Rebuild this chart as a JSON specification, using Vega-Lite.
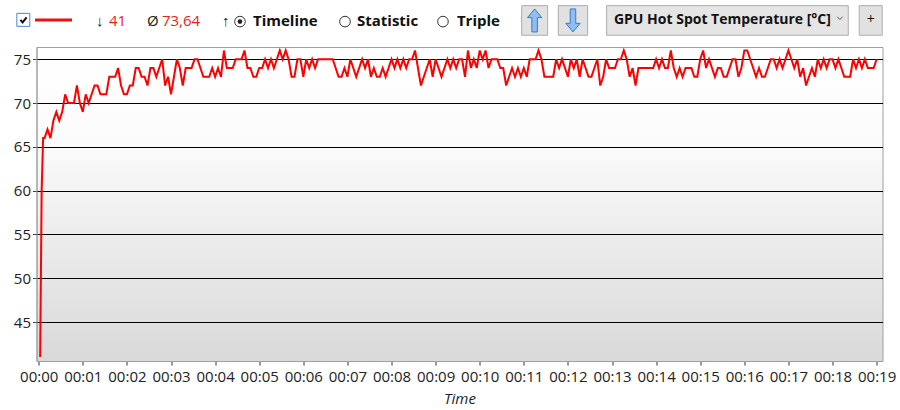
{
  "$schema": "https://vega.github.io/schema/vega-lite/v6.json",
  "width": 846,
  "height": 314,
  "autosize": {"type": "none"},
  "padding": {"left": 36.5, "top": 47, "right": 17.5, "bottom": 49},
  "background": "#ffffff",
  "view": {
    "fill": {"gradient": "linear", "x1": 0, "y1": 0, "x2": 0, "y2": 1,
      "stops": [{"offset": 0, "color": "#ffffff"}, {"offset": 0.3, "color": "#fbfbfb"}, {"offset": 1, "color": "#d9d9d9"}]},
    "stroke": "#a0a0a0"
  },
  "config": {"font": "Open Sans"},
  "data": {"values": [
{"s":2,"v":41},{"s":4,"v":60},{"s":6,"v":66},{"s":8,"v":66},{"s":12,"v":67},{"s":16,"v":66},{"s":20,"v":68},{"s":24,"v":69},{"s":28,"v":68},{"s":32,"v":69},{"s":36,"v":71},{"s":40,"v":70},{"s":44,"v":70},{"s":48,"v":70},{"s":52,"v":72},{"s":56,"v":70},{"s":60,"v":69},{"s":64,"v":71},{"s":68,"v":70},{"s":72,"v":71},{"s":76,"v":72},{"s":80,"v":72},{"s":84,"v":71},{"s":88,"v":71},{"s":92,"v":71},{"s":96,"v":73},{"s":100,"v":73},{"s":104,"v":73},{"s":108,"v":74},{"s":112,"v":72},{"s":116,"v":71},{"s":120,"v":71},{"s":124,"v":72},{"s":128,"v":72},{"s":132,"v":74},{"s":136,"v":74},{"s":140,"v":73},{"s":144,"v":73},{"s":148,"v":72},{"s":152,"v":74},{"s":156,"v":74},{"s":160,"v":73},{"s":164,"v":74},{"s":168,"v":75},{"s":172,"v":72},{"s":176,"v":73},{"s":180,"v":71},{"s":184,"v":73},{"s":188,"v":75},{"s":192,"v":74},{"s":196,"v":72},{"s":200,"v":74},{"s":204,"v":74},{"s":208,"v":74},{"s":212,"v":75},{"s":216,"v":75},{"s":220,"v":74},{"s":224,"v":73},{"s":228,"v":73},{"s":232,"v":73},{"s":236,"v":74},{"s":240,"v":73},{"s":244,"v":74},{"s":248,"v":73},{"s":252,"v":76},{"s":256,"v":74},{"s":260,"v":74},{"s":264,"v":74},{"s":268,"v":75},{"s":272,"v":75},{"s":276,"v":75},{"s":280,"v":76},{"s":284,"v":74},{"s":288,"v":74},{"s":292,"v":73},{"s":296,"v":73},{"s":300,"v":74},{"s":304,"v":74},{"s":308,"v":75},{"s":312,"v":74},{"s":316,"v":75},{"s":320,"v":74},{"s":324,"v":75},{"s":328,"v":76},{"s":332,"v":75},{"s":336,"v":76},{"s":340,"v":75},{"s":344,"v":73},{"s":348,"v":73},{"s":352,"v":75},
{"s":356,"v":75},{"s":360,"v":73},{"s":364,"v":75},{"s":368,"v":74},{"s":372,"v":75},{"s":376,"v":74},{"s":380,"v":75},{"s":384,"v":75},{"s":388,"v":75},{"s":392,"v":75},{"s":396,"v":75},{"s":400,"v":75},{"s":404,"v":74},{"s":408,"v":73},{"s":412,"v":73},{"s":416,"v":74},{"s":420,"v":73},{"s":424,"v":75},{"s":428,"v":74},{"s":432,"v":73},{"s":436,"v":74},{"s":440,"v":75},{"s":444,"v":74},{"s":448,"v":75},{"s":452,"v":73},{"s":456,"v":74},{"s":460,"v":73},{"s":464,"v":73},{"s":468,"v":74},{"s":472,"v":73},{"s":476,"v":74},{"s":480,"v":75},{"s":484,"v":74},{"s":488,"v":75},{"s":492,"v":74},{"s":496,"v":75},{"s":500,"v":74},{"s":504,"v":75},{"s":508,"v":75},{"s":512,"v":76},{"s":516,"v":74},{"s":520,"v":72},{"s":524,"v":73},{"s":528,"v":74},{"s":532,"v":75},{"s":536,"v":73},{"s":540,"v":75},{"s":544,"v":74},
{"s":548,"v":73},{"s":552,"v":74},{"s":556,"v":75},{"s":560,"v":74},{"s":564,"v":75},{"s":568,"v":74},{"s":572,"v":75},{"s":576,"v":75},{"s":580,"v":73},{"s":584,"v":76},{"s":588,"v":74},{"s":592,"v":75},{"s":596,"v":74},{"s":600,"v":76},{"s":604,"v":75},{"s":608,"v":76},{"s":612,"v":74},{"s":616,"v":75},{"s":620,"v":75},{"s":624,"v":75},{"s":628,"v":74},{"s":632,"v":74},{"s":636,"v":72},{"s":640,"v":73},{"s":644,"v":74},{"s":648,"v":73},{"s":652,"v":74},{"s":656,"v":73},{"s":660,"v":74},{"s":664,"v":73},{"s":668,"v":75},{"s":672,"v":75},{"s":676,"v":75},{"s":680,"v":76},{"s":684,"v":75},{"s":688,"v":73},{"s":692,"v":73},{"s":696,"v":73},{"s":700,"v":73},{"s":704,"v":75},{"s":708,"v":74},{"s":712,"v":75},{"s":716,"v":74},{"s":720,"v":73},{"s":724,"v":75},{"s":728,"v":74},{"s":732,"v":75},{"s":736,"v":73},{"s":740,"v":75},{"s":744,"v":74},{"s":748,"v":73},{"s":752,"v":73},{"s":756,"v":74},{"s":760,"v":75},{"s":764,"v":72},{"s":768,"v":73},{"s":772,"v":75},{"s":776,"v":74},{"s":780,"v":74},{"s":784,"v":74},{"s":788,"v":75},{"s":792,"v":75},{"s":796,"v":76},{"s":800,"v":75},{"s":804,"v":73},{"s":808,"v":74},{"s":812,"v":72},{"s":816,"v":74},{"s":820,"v":74},{"s":824,"v":74},{"s":828,"v":74},{"s":832,"v":74},{"s":836,"v":74},{"s":840,"v":75},
{"s":844,"v":74},{"s":848,"v":75},{"s":852,"v":74},{"s":856,"v":74},{"s":860,"v":76},{"s":864,"v":74},{"s":868,"v":73},{"s":872,"v":74},{"s":876,"v":73},{"s":880,"v":74},{"s":884,"v":74},{"s":888,"v":74},{"s":892,"v":73},{"s":896,"v":73},{"s":900,"v":75},{"s":904,"v":76},{"s":908,"v":74},{"s":912,"v":75},{"s":916,"v":74},{"s":920,"v":73},{"s":924,"v":74},{"s":928,"v":74},{"s":932,"v":73},{"s":936,"v":73},{"s":940,"v":74},{"s":944,"v":75},{"s":948,"v":75},{"s":952,"v":73},{"s":956,"v":74},{"s":960,"v":76},{"s":964,"v":76},{"s":968,"v":75},{"s":972,"v":74},{"s":976,"v":73},{"s":980,"v":74},{"s":984,"v":73},{"s":988,"v":73},{"s":992,"v":74},{"s":996,"v":75},{"s":1000,"v":75},{"s":1004,"v":74},{"s":1008,"v":75},{"s":1012,"v":74},{"s":1016,"v":75},{"s":1020,"v":76},{"s":1024,"v":75},{"s":1028,"v":74},{"s":1032,"v":75},{"s":1036,"v":73},{"s":1040,"v":74},{"s":1044,"v":72},{"s":1048,"v":73},{"s":1052,"v":74},{"s":1056,"v":73},{"s":1060,"v":75},{"s":1064,"v":74},{"s":1068,"v":75},{"s":1072,"v":74},{"s":1076,"v":75},{"s":1080,"v":75},{"s":1084,"v":74},{"s":1088,"v":75},{"s":1092,"v":74},{"s":1096,"v":73},{"s":1100,"v":73},{"s":1104,"v":73},{"s":1108,"v":75},{"s":1112,"v":74},{"s":1116,"v":75},{"s":1120,"v":74},{"s":1124,"v":75},{"s":1128,"v":74},{"s":1132,"v":74},{"s":1136,"v":74},{"s":1140,"v":75}
  ]},
  "layer": [
    {
      "mark": {"type": "line", "color": "#ff0000", "strokeWidth": 2},
      "encoding": {
        "x": {"field": "s", "type": "quantitative",
          "scale": {"domain": [-3, 1148], "nice": false, "zero": false},
          "axis": {"values": [0,60,120,180,240,300,360,420,480,540,600,660,720,780,840,900,960,1020,1080,1140],
            "labelExpr": "'00:' + (datum.value < 600 ? '0' : '') + round(datum.value / 60)",
            "title": "Time", "titleFontStyle": "italic", "titleFontWeight": "normal", "titleFontSize": 15, "titleColor": "#222222", "titlePadding": 7,
            "labelFontSize": 15, "labelColor": "#222222", "labelPadding": 4, "labelFlush": false, "labelOverlap": false,
            "tickColor": "#333333", "tickSize": 4, "domainColor": "#a0a0a0", "grid": false}},
        "y": {"field": "v", "type": "quantitative",
          "scale": {"domain": [40.55, 76.4], "nice": false, "zero": false},
          "axis": {"values": [45,50,55,60,65,70,75], "title": null,
            "grid": true, "gridColor": "#000000", "gridOpacity": 1, "gridWidth": 1,
            "labelFontSize": 15, "labelColor": "#222222", "labelPadding": 2,
            "tickColor": "#444444", "tickSize": 4, "domainColor": "#a0a0a0"}}
      }
    },
    {
      "data": {"values": [{}]},
      "mark": {"type": "point", "shape": "square", "size": 169, "filled": true, "fill": "#ffffff", "stroke": "#4a86d0", "strokeWidth": 1, "opacity": 1},
      "encoding": {"x": {"datum": -20.9, "type": "quantitative"}, "y": {"datum": 79.5, "type": "quantitative"}}
    },
    {
      "data": {"values": [{}]},
      "mark": {"type": "point", "shape": "M-0.6,0 L-0.15,0.5 L0.65,-0.5", "size": 100, "filled": false, "stroke": "#111111", "strokeWidth": 2, "opacity": 1},
      "encoding": {"x": {"datum": -20.9, "type": "quantitative"}, "y": {"datum": 79.5, "type": "quantitative"}}
    },
    {
      "data": {"values": [{}]},
      "mark": {"type": "rule", "color": "#ee1111", "strokeWidth": 3},
      "encoding": {"x": {"datum": -5, "type": "quantitative"}, "x2": {"datum": 45.3}, "y": {"datum": 79.48, "type": "quantitative"}}
    },
    {
      "data": {"values": [{}]},
      "mark": {"type": "text", "text": "↓", "align": "left", "baseline": "middle", "fontSize": 15, "color": "#222222"},
      "encoding": {"x": {"datum": 78, "type": "quantitative"}, "y": {"datum": 79.37, "type": "quantitative"}}
    },
    {
      "data": {"values": [{}]},
      "mark": {"type": "text", "text": "41", "align": "left", "baseline": "middle", "fontSize": 15, "color": "#e52222"},
      "encoding": {"x": {"datum": 95.6, "type": "quantitative"}, "y": {"datum": 79.37, "type": "quantitative"}}
    },
    {
      "data": {"values": [{}]},
      "mark": {"type": "text", "text": "Ø", "align": "left", "baseline": "middle", "fontSize": 15, "color": "#222222"},
      "encoding": {"x": {"datum": 147.3, "type": "quantitative"}, "y": {"datum": 79.37, "type": "quantitative"}}
    },
    {
      "data": {"values": [{}]},
      "mark": {"type": "text", "text": "73,64", "align": "left", "baseline": "middle", "fontSize": 15, "color": "#e52222"},
      "encoding": {"x": {"datum": 167.7, "type": "quantitative"}, "y": {"datum": 79.37, "type": "quantitative"}}
    },
    {
      "data": {"values": [{}]},
      "mark": {"type": "text", "text": "↑", "align": "left", "baseline": "middle", "fontSize": 15, "color": "#222222"},
      "encoding": {"x": {"datum": 249.3, "type": "quantitative"}, "y": {"datum": 79.37, "type": "quantitative"}}
    },
    {
      "data": {"values": [{}]},
      "mark": {"type": "point", "shape": "circle", "size": 113, "filled": true, "fill": "#ffffff", "stroke": "#333333", "strokeWidth": 1, "opacity": 1},
      "encoding": {"x": {"datum": 273.8, "type": "quantitative"}, "y": {"datum": 79.3, "type": "quantitative"}}
    },
    {
      "data": {"values": [{}]},
      "mark": {"type": "point", "shape": "circle", "size": 113, "filled": true, "fill": "#ffffff", "stroke": "#333333", "strokeWidth": 1, "opacity": 1},
      "encoding": {"x": {"datum": 416.7, "type": "quantitative"}, "y": {"datum": 79.3, "type": "quantitative"}}
    },
    {
      "data": {"values": [{}]},
      "mark": {"type": "point", "shape": "circle", "size": 113, "filled": true, "fill": "#ffffff", "stroke": "#333333", "strokeWidth": 1, "opacity": 1},
      "encoding": {"x": {"datum": 550, "type": "quantitative"}, "y": {"datum": 79.3, "type": "quantitative"}}
    },
    {
      "data": {"values": [{}]},
      "mark": {"type": "point", "shape": "circle", "size": 22, "filled": true, "fill": "#222222", "strokeWidth": 0, "opacity": 1},
      "encoding": {"x": {"datum": 273.8, "type": "quantitative"}, "y": {"datum": 79.3, "type": "quantitative"}}
    },
    {
      "data": {"values": [{}]},
      "mark": {"type": "text", "text": "Timeline", "align": "left", "baseline": "middle", "fontSize": 15, "fontWeight": "bold", "color": "#111111"},
      "encoding": {"x": {"datum": 291.5, "type": "quantitative"}, "y": {"datum": 79.37, "type": "quantitative"}}
    },
    {
      "data": {"values": [{}]},
      "mark": {"type": "text", "text": "Statistic", "align": "left", "baseline": "middle", "fontSize": 15, "fontWeight": "bold", "color": "#111111"},
      "encoding": {"x": {"datum": 433, "type": "quantitative"}, "y": {"datum": 79.37, "type": "quantitative"}}
    },
    {
      "data": {"values": [{}]},
      "mark": {"type": "text", "text": "Triple", "align": "left", "baseline": "middle", "fontSize": 15, "fontWeight": "bold", "color": "#111111"},
      "encoding": {"x": {"datum": 569, "type": "quantitative"}, "y": {"datum": 79.37, "type": "quantitative"}}
    },
    {
      "data": {"values": [{}]},
      "mark": {"type": "rect", "fill": "#e1e1e1", "stroke": "#adadad", "strokeWidth": 1},
      "encoding": {"x": {"datum": 657.1, "type": "quantitative"}, "x2": {"datum": 692.4}, "y": {"datum": 81.12, "type": "quantitative"}, "y2": {"datum": 77.74}}
    },
    {
      "data": {"values": [{}]},
      "mark": {"type": "rect", "fill": "#e1e1e1", "stroke": "#adadad", "strokeWidth": 1},
      "encoding": {"x": {"datum": 706.9, "type": "quantitative"}, "x2": {"datum": 746.9}, "y": {"datum": 81.12, "type": "quantitative"}, "y2": {"datum": 77.74}}
    },
    {
      "data": {"values": [{}]},
      "mark": {"type": "point", "shape": "M0,-1 L0.62,-0.25 L0.24,-0.25 L0.24,1 L-0.24,1 L-0.24,-0.25 L-0.62,-0.25 Z", "size": 529, "filled": true, "fill": "#8fbff0", "stroke": "#3a78c8", "strokeWidth": 1, "opacity": 1},
      "encoding": {"x": {"datum": 674.7, "type": "quantitative"}, "y": {"datum": 79.43, "type": "quantitative"}}
    },
    {
      "data": {"values": [{}]},
      "mark": {"type": "point", "shape": "M0,1 L0.62,0.25 L0.24,0.25 L0.24,-1 L-0.24,-1 L-0.24,0.25 L-0.62,0.25 Z", "size": 529, "filled": true, "fill": "#8fbff0", "stroke": "#3a78c8", "strokeWidth": 1, "opacity": 1},
      "encoding": {"x": {"datum": 726.9, "type": "quantitative"}, "y": {"datum": 79.43, "type": "quantitative"}}
    },
    {
      "data": {"values": [{}]},
      "mark": {"type": "rect", "fill": "#e5e5e5", "stroke": "#acacac", "strokeWidth": 1},
      "encoding": {"x": {"datum": 772.7, "type": "quantitative"}, "x2": {"datum": 1101.4}, "y": {"datum": 81.12, "type": "quantitative"}, "y2": {"datum": 77.74}}
    },
    {
      "data": {"values": [{}]},
      "mark": {"type": "text", "text": "GPU Hot Spot Temperature [°C]", "align": "left", "baseline": "middle", "fontSize": 14, "fontWeight": "bold", "color": "#111111"},
      "encoding": {"x": {"datum": 782.6, "type": "quantitative"}, "y": {"datum": 79.43, "type": "quantitative"}}
    },
    {
      "data": {"values": [{}]},
      "mark": {"type": "point", "shape": "M-1,-0.5 L0,0.5 L1,-0.5", "size": 30, "filled": false, "stroke": "#555555", "strokeWidth": 1, "opacity": 1},
      "encoding": {"x": {"datum": 1090.1, "type": "quantitative"}, "y": {"datum": 79.7, "type": "quantitative"}}
    },
    {
      "data": {"values": [{}]},
      "mark": {"type": "rect", "fill": "#e1e1e1", "stroke": "#adadad", "strokeWidth": 1},
      "encoding": {"x": {"datum": 1116.3, "type": "quantitative"}, "x2": {"datum": 1147.6}, "y": {"datum": 81.12, "type": "quantitative"}, "y2": {"datum": 77.74}}
    },
    {
      "data": {"values": [{}]},
      "mark": {"type": "text", "text": "+", "align": "center", "baseline": "middle", "fontSize": 14, "color": "#111111"},
      "encoding": {"x": {"datum": 1132, "type": "quantitative"}, "y": {"datum": 79.43, "type": "quantitative"}}
    }
  ]
}
